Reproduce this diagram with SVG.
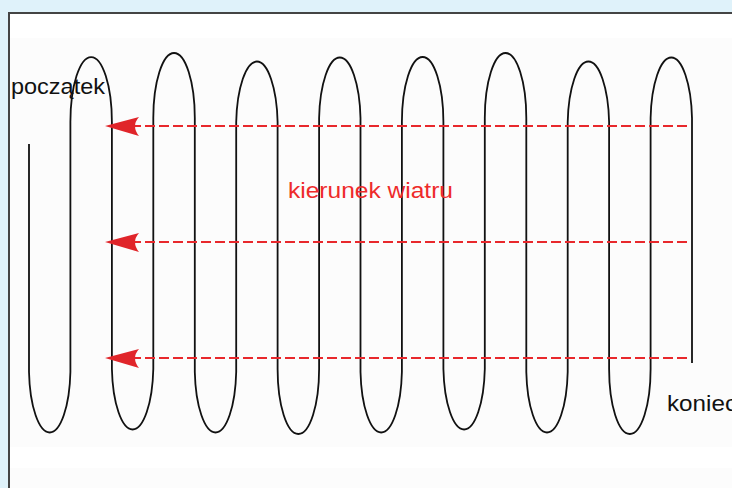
<svg xmlns="http://www.w3.org/2000/svg" width="732" height="488" viewBox="0 0 732 488">
<style>
.wire{fill:none;stroke:#111;stroke-width:1.8;stroke-linejoin:round}
.wind{fill:none;stroke:#e8282c;stroke-width:2;stroke-dasharray:10 4}
.head{fill:#e0252a;stroke:none}
.lbl{font-family:"Liberation Sans",Arial,sans-serif;font-size:22.5px}
</style>
<defs>
<path id="ah" d="M0,0 L34,-9 Q26,0 34,10 Z"/>
</defs>
<rect x="0" y="0" width="732" height="488" fill="#dff2fa"/>
<g id="frame">
<rect x="9" y="13" width="740" height="490" fill="#ffffff" stroke="#444" stroke-width="2"/>
<rect x="10" y="38" width="722" height="409" fill="#fcfcfc"/>
<rect x="10" y="468" width="722" height="20" fill="#fcfcfc"/>
</g>
<g id="route">
<path class="wire" d="M29,144 V372 A20.75,65 0 0 0 70.4,372 V122 A20.75,65 0 0 1 111.9,122 V369 A20.75,65 0 0 0 153.3,369 V118 A20.75,65 0 0 1 194.8,118 V372 A20.75,65 0 0 0 236.2,372 V122 A20.75,65 0 0 1 277.6,122 V369 A20.75,65 0 0 0 319.1,369 V118 A20.75,65 0 0 1 360.5,118 V372 A20.75,65 0 0 0 401.9,372 V122 A20.75,65 0 0 1 443.4,122 V369 A20.75,65 0 0 0 484.8,369 V118 A20.75,65 0 0 1 526.3,118 V372 A20.75,65 0 0 0 567.7,372 V122 A20.75,65 0 0 1 609.1,122 V369 A20.75,65 0 0 0 650.6,369 V118 A20.75,65 0 0 1 692,118 V363"/>
</g>
<g id="connectors">
<line class="wind" x1="687" y1="126" x2="132" y2="126"/>
<use href="#ah" class="head" x="105" y="126"/>
<line class="wind" x1="687" y1="242" x2="132" y2="242"/>
<use href="#ah" class="head" x="105" y="242"/>
<line class="wind" x1="687" y1="358" x2="132" y2="358"/>
<use href="#ah" class="head" x="105" y="358"/>
</g>
<g id="label-start"><text class="lbl" x="11" y="94" textLength="94" lengthAdjust="spacingAndGlyphs" fill="#111">początek</text></g>
<g id="label-wind"><text class="lbl" x="288" y="198" textLength="165" lengthAdjust="spacingAndGlyphs" fill="#ee2a2a">kierunek wiatru</text></g>
<g id="label-end"><text class="lbl" x="667" y="411" textLength="70" lengthAdjust="spacingAndGlyphs" fill="#111">koniec</text></g>
</svg>
